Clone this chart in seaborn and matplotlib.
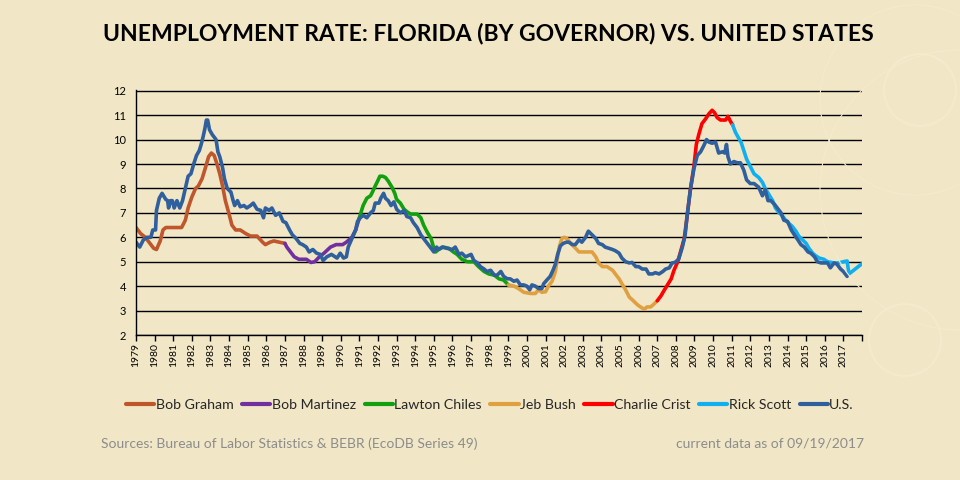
import matplotlib
matplotlib.use("Agg")
import matplotlib.pyplot as plt
import seaborn as sns
import pandas as pd
from matplotlib.patches import Circle

# ---------------- data ----------------
us_t = [1979.0, 1979.2, 1979.4, 1979.6, 1979.8, 1979.9, 1980.05, 1980.1, 1980.25, 1980.4, 1980.6, 1980.7,
        1980.75, 1980.85, 1980.95, 1981.05, 1981.2, 1981.35, 1981.5, 1981.65, 1981.8, 1981.95, 1982.1,
        1982.25, 1982.4, 1982.5, 1982.6, 1982.7, 1982.78, 1982.85, 1982.95, 1983.1, 1983.3, 1983.4,
        1983.5, 1983.65, 1983.75, 1983.9, 1984.1, 1984.2, 1984.3, 1984.45, 1984.6, 1984.8, 1984.95,
        1985.15, 1985.3, 1985.5, 1985.7, 1985.85, 1985.95, 1986.15, 1986.3, 1986.5, 1986.7, 1986.9,
        1987.05, 1987.25, 1987.4, 1987.6, 1987.8, 1987.95, 1988.15, 1988.3, 1988.5, 1988.7, 1988.9,
        1989.05, 1989.25, 1989.5, 1989.8, 1989.97, 1990.15, 1990.3, 1990.4, 1990.6, 1990.8, 1990.9,
        1991.05, 1991.2, 1991.4, 1991.6, 1991.75, 1991.85, 1992.05, 1992.15, 1992.3, 1992.4, 1992.55,
        1992.7, 1992.85, 1993.0, 1993.2, 1993.4, 1993.55, 1993.75, 1993.9, 1994.1, 1994.3, 1994.45,
        1994.65, 1994.85, 1995.0, 1995.15, 1995.25, 1995.45, 1995.7, 1996.0, 1996.15, 1996.35, 1996.5,
        1996.7, 1997.0, 1997.15, 1997.35, 1997.5, 1997.7, 1997.85, 1998.05, 1998.25, 1998.4, 1998.6,
        1998.75, 1998.95, 1999.1, 1999.3, 1999.47, 1999.65, 1999.83, 2000.0, 2000.15, 2000.27, 2000.45,
        2000.63, 2000.8, 2000.9, 2001.07, 2001.25, 2001.4, 2001.53, 2001.65, 2001.8, 2001.95, 2002.12,
        2002.25, 2002.45, 2002.6, 2002.8, 2002.95, 2003.15, 2003.3, 2003.5, 2003.7, 2003.85, 2004.05,
        2004.2, 2004.4, 2004.6, 2004.75, 2004.95, 2005.1, 2005.3, 2005.5, 2005.65, 2005.85, 2006.0,
        2006.2, 2006.4, 2006.55, 2006.75, 2006.9, 2007.1, 2007.3, 2007.45, 2007.65, 2007.8, 2007.95,
        2008.15, 2008.35, 2008.5, 2008.6, 2008.78, 2008.97, 2009.15, 2009.33, 2009.5, 2009.65, 2009.77,
        2009.95, 2010.13, 2010.3, 2010.5, 2010.63, 2010.72, 2010.8, 2010.93, 2011.12, 2011.3, 2011.47,
        2011.65, 2011.8, 2012.0, 2012.2, 2012.45, 2012.65, 2012.8, 2012.95, 2013.1, 2013.3, 2013.45,
        2013.65, 2013.8, 2014.0, 2014.2, 2014.37, 2014.55, 2014.72, 2014.9, 2015.1, 2015.25, 2015.45,
        2015.6, 2015.8, 2016.15, 2016.3, 2016.5, 2016.65, 2016.85, 2017.0, 2017.2]
us_v = [5.8, 5.6, 5.9, 6.0, 6.0, 6.3, 6.3, 7.1, 7.6, 7.8, 7.55, 7.5,
        7.2, 7.5, 7.5, 7.2, 7.5, 7.2, 7.5, 8.0, 8.5, 8.6, 9.0,
        9.35, 9.55, 9.8, 10.1, 10.45, 10.8, 10.8, 10.4, 10.2, 10.0, 9.5,
        9.3, 8.85, 8.4, 8.0, 7.85, 7.55, 7.3, 7.5, 7.25, 7.3, 7.2,
        7.3, 7.4, 7.15, 7.1, 6.8, 7.2, 7.1, 7.2, 6.9, 7.0, 6.65,
        6.6, 6.3, 6.1, 5.95, 5.75, 5.7, 5.6, 5.4, 5.5, 5.35, 5.3,
        5.05, 5.2, 5.3, 5.15, 5.35, 5.15, 5.2, 5.6, 5.95, 6.3, 6.65,
        6.8, 6.9, 6.8, 7.0, 7.1, 7.4, 7.4, 7.6, 7.8, 7.6, 7.5,
        7.3, 7.45, 7.15, 7.0, 7.1, 6.85, 6.8, 6.6, 6.4, 6.1, 5.95,
        5.75, 5.55, 5.4, 5.6, 5.5, 5.6, 5.55, 5.5, 5.6, 5.3, 5.35,
        5.2, 5.3, 5.05, 4.95, 4.8, 4.7, 4.6, 4.65, 4.45, 4.45, 4.6,
        4.4, 4.3, 4.3, 4.2, 4.25, 4.05, 4.05, 4.0, 3.85, 4.05, 4.0,
        3.9, 3.9, 4.1, 4.25, 4.4, 4.65, 4.9, 5.3, 5.65, 5.75, 5.8,
        5.8, 5.7, 5.7, 5.9, 5.8, 6.0, 6.25, 6.1, 5.95, 5.75, 5.7,
        5.6, 5.55, 5.5, 5.45, 5.35, 5.15, 5.0, 4.95, 4.97, 4.8, 4.8,
        4.7, 4.7, 4.5, 4.5, 4.55, 4.5, 4.6, 4.7, 4.75, 4.95, 4.97,
        5.1, 5.6, 6.1, 6.85, 7.95, 8.8, 9.35, 9.5, 9.75, 10.0, 9.9,
        9.85, 9.9, 9.45, 9.5, 9.45, 9.8, 9.3, 9.0, 9.1, 9.05, 9.05,
        8.75, 8.35, 8.2, 8.2, 8.05, 7.7, 7.95, 7.5, 7.5, 7.35, 7.2,
        7.0, 6.7, 6.65, 6.3, 6.1, 5.9, 5.7, 5.6, 5.4, 5.35, 5.2,
        5.0, 4.95, 4.95, 4.75, 4.95, 4.9, 4.7, 4.6, 4.4]

graham_t = [1979.0, 1979.25, 1979.5, 1979.75, 1979.95, 1980.1, 1980.3, 1980.45, 1980.6, 1981.45, 1981.65,
            1981.8, 1982.0, 1982.2, 1982.35, 1982.55, 1982.75, 1982.9, 1983.05, 1983.2, 1983.35, 1983.5,
            1983.65, 1983.8, 1984.0, 1984.15, 1984.35, 1984.6, 1984.9, 1985.15, 1985.5, 1985.8, 1985.95,
            1986.2, 1986.4, 1986.7, 1987.0]
graham_v = [6.4, 6.15, 6.0, 5.75, 5.55, 5.5, 5.85, 6.3, 6.4, 6.4, 6.7,
            7.2, 7.65, 8.0, 8.1, 8.4, 8.9, 9.3, 9.45, 9.35, 9.0, 8.6,
            8.1, 7.5, 6.95, 6.5, 6.3, 6.3, 6.15, 6.05, 6.05, 5.8, 5.7,
            5.8, 5.85, 5.8, 5.75]

martinez_t = [1987.0, 1987.1, 1987.3, 1987.5, 1987.75, 1988.15, 1988.4, 1988.6, 1988.85, 1989.1, 1989.45,
              1989.75, 1990.1, 1990.3, 1990.6, 1990.8, 1991.0]
martinez_v = [5.75, 5.6, 5.4, 5.2, 5.1, 5.1, 4.97, 5.0, 5.2, 5.35, 5.6,
              5.7, 5.7, 5.8, 6.0, 6.3, 6.8]

chiles_t = [1991.0, 1991.2, 1991.4, 1991.6, 1991.7, 1991.85, 1991.98, 1992.1, 1992.25, 1992.4, 1992.55,
            1992.75, 1992.9, 1993.0, 1993.2, 1993.4, 1993.55, 1993.75, 1994.1, 1994.3, 1994.45, 1994.65,
            1994.85, 1995.0, 1995.1, 1995.25, 1995.5, 1995.8, 1996.05, 1996.25, 1996.5, 1996.8, 1997.15,
            1997.4, 1997.7, 1997.95, 1998.25, 1998.5, 1998.75, 1999.0]
chiles_v = [6.8, 7.3, 7.6, 7.7, 7.85, 8.1, 8.3, 8.5, 8.5, 8.45, 8.3,
            8.05, 7.8, 7.55, 7.4, 7.15, 7.05, 6.95, 6.95, 6.8, 6.5, 6.2,
            5.95, 5.55, 5.4, 5.5, 5.6, 5.55, 5.4, 5.3, 5.1, 5.0, 5.0,
            4.8, 4.6, 4.5, 4.45, 4.3, 4.25, 4.05]

bush_t = [1999.0, 1999.3, 1999.55, 1999.83, 2000.2, 2000.45, 2000.63, 2000.8, 2001.0, 2001.15, 2001.35,
          2001.53, 2001.65, 2001.75, 2001.88, 2002.0, 2002.15, 2002.35, 2002.55, 2002.8, 2003.5, 2003.7,
          2003.85, 2004.05, 2004.3, 2004.6, 2004.75, 2004.95, 2005.1, 2005.3, 2005.5, 2005.65, 2005.85,
          2006.0, 2006.2, 2006.3, 2006.45, 2006.65, 2006.8, 2007.0]
bush_v = [4.05, 4.0, 3.9, 3.75, 3.7, 3.7, 3.85, 3.75, 3.77, 4.0, 4.2,
          4.6, 5.2, 5.65, 5.95, 6.0, 5.95, 5.75, 5.6, 5.4, 5.4, 5.2,
          4.95, 4.8, 4.8, 4.65, 4.5, 4.3, 4.1, 3.85, 3.55, 3.45, 3.3,
          3.2, 3.1, 3.05, 3.15, 3.15, 3.25, 3.4]

crist_t = [2007.0, 2007.2, 2007.35, 2007.55, 2007.75, 2007.9, 2008.1, 2008.25, 2008.45, 2008.58, 2008.78,
           2008.97, 2009.1, 2009.23, 2009.4, 2009.6, 2009.77, 2009.95, 2010.08, 2010.22, 2010.4, 2010.67,
           2010.8, 2010.93, 2011.05]
crist_v = [3.4, 3.6, 3.8, 4.05, 4.3, 4.65, 5.0, 5.4, 5.95, 6.7, 7.95,
           8.9, 9.8, 10.2, 10.65, 10.85, 11.05, 11.2, 11.1, 10.9, 10.8, 10.8,
           10.95, 10.75, 10.6]

scott_t = [2011.05, 2011.2, 2011.38, 2011.5, 2011.65, 2011.8, 2012.0, 2012.2, 2012.45, 2012.65, 2012.8,
           2013.0, 2013.2, 2013.35, 2013.55, 2013.7, 2013.9, 2014.1, 2014.25, 2014.45, 2014.6, 2014.8,
           2015.0, 2015.15, 2015.35, 2015.5, 2015.7, 2015.95, 2016.15, 2016.5, 2016.75, 2017.0, 2017.2,
           2017.3, 2017.55, 2017.8, 2018.0]
scott_v = [10.6, 10.3, 10.05, 9.9, 9.55, 9.2, 8.9, 8.6, 8.45, 8.25, 8.0,
           7.75, 7.5, 7.2, 7.0, 6.9, 6.7, 6.55, 6.45, 6.25, 6.05, 5.9,
           5.75, 5.55, 5.35, 5.25, 5.15, 5.1, 5.0, 4.95, 4.95, 5.0, 5.03,
           4.5, 4.65, 4.8, 4.92]

series_names = ["Bob Graham", "Bob Martinez", "Lawton Chiles", "Jeb Bush", "Charlie Crist", "Rick Scott", "U.S."]
series_t = [graham_t, martinez_t, chiles_t, bush_t, crist_t, scott_t, us_t]
series_v = [graham_v, martinez_v, chiles_v, bush_v, crist_v, scott_v, us_v]
series_colors = ["#C0562C", "#7030A0", "#10A010", "#E0A040", "#FF0000", "#10B0F0", "#2F5F9C"]

year_ticks = list(range(1979, 2019))
year_labels = [str(y) for y in range(1979, 2018)] + [""]
y_ticks = list(range(2, 13))

title = "UNEMPLOYMENT RATE: FLORIDA (BY GOVERNOR) VS. UNITED STATES"
source_note = "Sources: Bureau of Labor Statistics & BEBR (EcoDB Series 49)"
date_note = "current data as of 09/19/2017"

# ---------------- build table ----------------
rows = []
for name, ts, vs in zip(series_names, series_t, series_v):
    for t, v in zip(ts, vs):
        rows.append({"series": name, "year": t, "rate": v})
df = pd.DataFrame(rows)

BG = "#F1E7C6"
sns.set_theme(style="white")
plt.rcParams["font.family"] = ["Lato", "DejaVu Sans"]

fig = plt.figure(figsize=(9.6, 4.8), dpi=100, facecolor=BG)

# very faint decorative rings (slide background)
for (cx, cy, r, lw) in [(920, 90, 36, 1.5), (915, 100, 95, 0.8), (905, 340, 36, 1.5), (960, 190, 140, 0.8)]:
    fig.patches.append(Circle((cx, 480 - cy), r, transform=None, fill=False,
                              edgecolor="#F4EBCF", lw=lw, zorder=0))

ax = fig.add_axes([136 / 960, 1 - 335 / 480, (862 - 136) / 960, (335 - 90) / 480])
ax.set_facecolor("none")

sns.lineplot(data=df, x="year", y="rate", hue="series", hue_order=series_names,
             palette=dict(zip(series_names, series_colors)), estimator=None, sort=False,
             linewidth=2.6, ax=ax, legend=True)

ax.set_xlim(1979, 2018)
ax.set_ylim(2, 12.03)
ax.set_xticks(year_ticks)
ax.set_xticklabels(year_labels, rotation=90, fontsize=7.5, color="black")
ax.set_yticks(y_ticks)
ax.set_yticklabels([str(v) for v in y_ticks], fontsize=8, color="black")
ax.tick_params(axis="x", direction="out", length=4, width=1, color="black", pad=2, bottom=True)
ax.tick_params(axis="y", length=0, pad=7)
ax.yaxis.grid(True, color="black", linewidth=1.0)
ax.xaxis.grid(False)
ax.set_axisbelow(True)
for s in ["top", "right"]:
    ax.spines[s].set_visible(False)
for s in ["left", "bottom"]:
    ax.spines[s].set_color("black")
    ax.spines[s].set_linewidth(1.0)
ax.set_xlabel("")
ax.set_ylabel("")

handles, labels = ax.get_legend_handles_labels()
ax.legend(handles, labels, loc="center", bbox_to_anchor=(490 / 960, 1 - 405 / 480), bbox_transform=fig.transFigure,
          ncol=7, frameon=False, fontsize=10.2, handlelength=2.0, handletextpad=0.1, columnspacing=0.6,
          borderaxespad=0)
for lh in ax.get_legend().get_lines():
    lh.set_linewidth(3)

fig.text(488 / 960, 1 - 34 / 480, title, ha="center", va="center", fontsize=16.5, fontweight="bold",
         color="black")
fig.text(101 / 960, 1 - 444 / 480, source_note, ha="left", va="center", fontsize=10, color="#8C8C8C")
fig.text(864 / 960, 1 - 444 / 480, date_note, ha="right", va="center", fontsize=10, color="#8C8C8C")

fig.savefig("out.png", dpi=100, facecolor=BG)
